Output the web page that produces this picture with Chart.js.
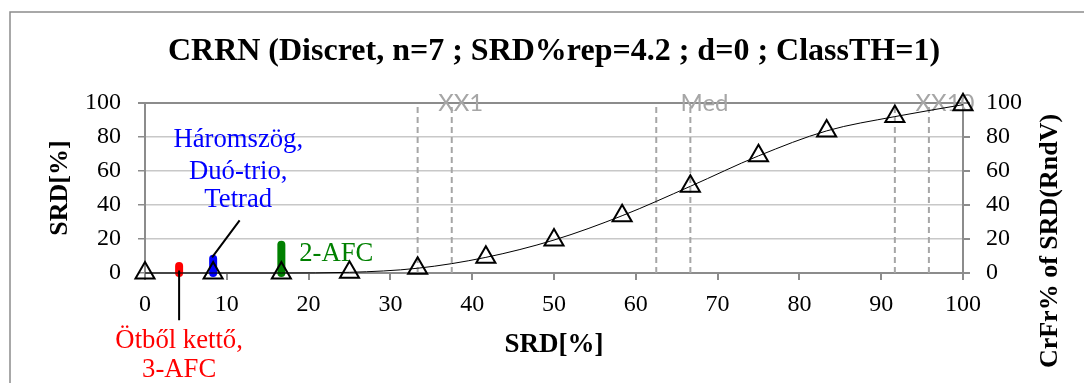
<!DOCTYPE html>
<html>
<head>
<meta charset="utf-8">
<script src="https://cdn.jsdelivr.net/npm/chart.js@4/dist/chart.umd.min.js"></script>
<style>
  body { margin: 0; background: #fff; }
</style>
</head>
<body>
<canvas id="crrnChart" width="1084" height="383"></canvas>
<script>
// Pontos da curva (SRD% x CrFr%)
const srdValues = [0, 8.33, 16.67, 25, 33.33, 41.67, 50, 58.33, 66.67, 75, 83.33, 91.67, 100];
const crFrValues = [0, 0, 0, 0.4, 2.8, 9.2, 19.4, 33.7, 51, 68.9, 83.6, 92, 99];

// Métodos (barras coloridas)
const methodNames = [['Ötből kettő,', '3-AFC'], ['Háromszög,', 'Duó-trio,', 'Tetrad'], ['2-AFC']];
const methodSrd = [4.17, 8.33, 16.67];
const methodColors = ['#ff0000', '#0000ff', '#008000'];

// Linhas tracejadas de referência
const refLabels = ['XX1', 'Med', 'XX10'];
const refLow = [33.33, 62.5, 91.67];
const refHigh = [37.5, 66.67, 95.83];
const refLabelX = [38.6, 68.4, 97.8];

const titleText = 'CRRN (Discret, n=7 ; SRD%rep=4.2 ; d=0 ; ClassTH=1)';
const xTitle = 'SRD[%]';
const yTitle = 'SRD[%]';
const y2Title = 'CrFr% of SRD(RndV)';

const serif = "'Liberation Serif', 'Times New Roman', serif";

const datasets = [];

// --- LINHAS TRACEJADAS ---
[...refLow, ...refHigh].forEach(v => {
  datasets.push({
    data: [{ x: v, y: 0 }, { x: v, y: 100 }],
    borderColor: '#a6a6a6',
    borderWidth: 2,
    borderDash: [6, 4],
    pointRadius: 0,
    showLine: true,
    order: 5
  });
});

// --- BARRAS DOS MÉTODOS ---
methodSrd.forEach((v, i) => {
  datasets.push({
    data: [{ x: v, y: 0 }, { x: v, y: v }],
    borderColor: methodColors[i],
    borderWidth: 8,
    borderCapStyle: 'round',
    pointRadius: 0,
    showLine: true,
    clip: false,
    order: 3
  });
});

// --- CURVA COM TRIÂNGULOS ---
datasets.push({
  data: srdValues.map((v, i) => ({ x: v, y: crFrValues[i] })),
  borderColor: '#000',
  borderWidth: 1,
  cubicInterpolationMode: 'monotone',
  showLine: true,
  pointStyle: 'triangle',
  pointRadius: 11,
  pointBorderWidth: 2,
  pointBorderColor: '#000',
  pointBackgroundColor: 'rgba(0,0,0,0)',
  clip: false,
  order: 1
});

const textos = {
  id: 'textos',
  beforeDatasetsDraw(chart) {
    const { ctx, scales: { x, y } } = chart;
    ctx.save();
    ctx.fillStyle = '#a6a6a6';
    ctx.font = "24px Lato, 'Liberation Sans', sans-serif";
    ctx.textAlign = 'center';
    ctx.textBaseline = 'middle';
    refLabels.forEach((t, i) => ctx.fillText(t, x.getPixelForValue(refLabelX[i]), y.getPixelForValue(100)));
    ctx.restore();
  },
  afterDraw(chart) {
    const { ctx, chartArea, scales: { x, y } } = chart;
    ctx.save();

    // moldura
    ctx.strokeStyle = '#8c8c8c';
    ctx.lineWidth = 1.5;
    ctx.beginPath();
    ctx.moveTo(10, 400);
    ctx.lineTo(10, 12);
    ctx.lineTo(1100, 12);
    ctx.stroke();

    ctx.fillStyle = '#000';
    ctx.textAlign = 'center';
    ctx.textBaseline = 'middle';
    const midX = (chartArea.left + chartArea.right) / 2;

    ctx.font = 'bold 32px ' + serif;
    ctx.fillText(titleText, midX, 52);

    ctx.font = 'bold 27px ' + serif;
    ctx.fillText(xTitle, midX, 345);

    ctx.font = 'bold 26px ' + serif;
    ctx.save();
    ctx.translate(60, (chartArea.top + chartArea.bottom) / 2);
    ctx.rotate(-Math.PI / 2);
    ctx.fillText(yTitle, 0, 0);
    ctx.restore();

    ctx.save();
    ctx.translate(1050, 241);
    ctx.rotate(-Math.PI / 2);
    ctx.fillText(y2Title, 0, 0);
    ctx.restore();

    // linhas de chamada
    ctx.strokeStyle = '#000';
    ctx.lineWidth = 2;
    ctx.beginPath();
    ctx.moveTo(x.getPixelForValue(11.57), y.getPixelForValue(31));
    ctx.lineTo(x.getPixelForValue(8.2), y.getPixelForValue(9.2));
    ctx.moveTo(x.getPixelForValue(methodSrd[0]), y.getPixelForValue(1.5));
    ctx.lineTo(x.getPixelForValue(methodSrd[0]), y.getPixelForValue(-27.8));
    ctx.stroke();

    // rótulos dos métodos
    ctx.font = '26.7px ' + serif;
    ctx.fillStyle = methodColors[0];
    [-40.1, -57.1].forEach((v, k) => ctx.fillText(methodNames[0][k], x.getPixelForValue(methodSrd[0]), y.getPixelForValue(v)));
    ctx.fillStyle = methodColors[1];
    [78.5, 59.7, 42.7].forEach((v, k) => ctx.fillText(methodNames[1][k], x.getPixelForValue(11.4), y.getPixelForValue(v)));
    ctx.fillStyle = methodColors[2];
    ctx.textAlign = 'left';
    ctx.fillText(methodNames[2][0], x.getPixelForValue(18.85), y.getPixelForValue(11));

    ctx.restore();
  }
};

const tickFont = { family: serif, size: 24 };

new Chart(document.getElementById('crrnChart'), {
  type: 'scatter',
  data: { datasets: datasets },
  options: {
    responsive: false,
    animation: false,
    devicePixelRatio: 1,
    layout: { padding: { top: 103, left: 0, right: 0, bottom: 0 } },
    plugins: { legend: { display: false }, tooltip: { enabled: false }, title: { display: false } },
    scales: {
      x: {
        type: 'linear', min: 0, max: 100,
        ticks: { stepSize: 10, font: tickFont, color: '#000', padding: 10 },
        grid: { drawOnChartArea: false, color: '#8c8c8c', tickLength: 7, lineWidth: 2 },
        border: { color: '#8c8c8c', width: 2 },
        afterFit: s => { s.height = 110; }
      },
      y: {
        position: 'left', min: 0, max: 100,
        ticks: { stepSize: 20, font: tickFont, color: '#000', padding: 17 },
        grid: {
          color: c => (c.tick && c.tick.value === 100) ? '#8c8c8c' : '#c8c8c8',
          lineWidth: c => (c.tick && c.tick.value === 100) ? 2 : 1.5,
          tickColor: '#8c8c8c',
          tickLength: 7
        },
        border: { color: '#8c8c8c', width: 2 },
        afterFit: s => { s.width = 145; }
      },
      y2: {
        position: 'right', min: 0, max: 100,
        ticks: { stepSize: 20, font: tickFont, color: '#000', padding: 16 },
        grid: { drawOnChartArea: false, color: '#8c8c8c', tickLength: 7, lineWidth: 2 },
        border: { color: '#8c8c8c', width: 2 },
        afterFit: s => { s.width = 121; }
      }
    }
  },
  plugins: [textos]
});
</script>
</body>
</html>
